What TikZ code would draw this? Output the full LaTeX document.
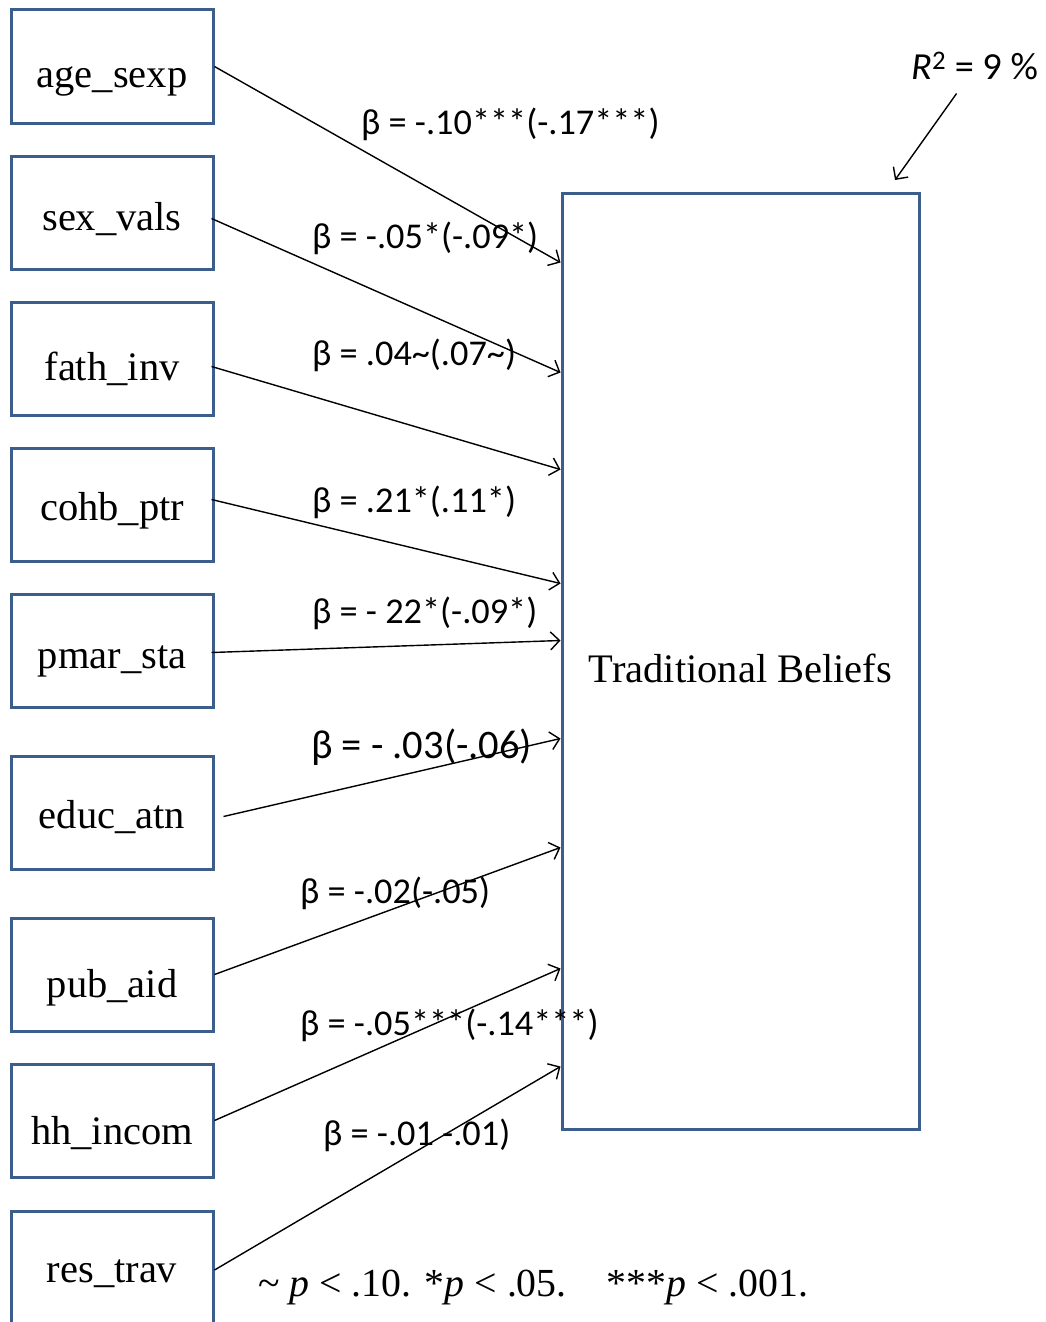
\documentclass[tikz,border=0pt]{standalone}
\usepackage{fontspec}
\setmainfont{Liberation Serif}
\newfontfamily\calib{Carlito}
\usetikzlibrary{arrows.meta}
\definecolor{boxblue}{HTML}{3B5E8C}
\begin{document}
\begin{tikzpicture}[x=1pt,y=-1pt,
  varbox/.style={draw=boxblue,line width=3pt,minimum width=202pt,minimum height=113pt,inner sep=0pt,text height=60pt,text depth=14pt,font=\fontsize{40.5}{42}\selectfont},
  coef/.style={inner sep=0pt,anchor=base west,font=\calib\fontsize{36.3}{38}\selectfont},
  conn/.style={draw=black,line width=1.4pt,-{Straight Barb[length=9pt,width=18pt,line width=1.4pt]}}]
\useasboundingbox (0,0) rectangle (1045,1322);
\node[varbox,text depth=18pt] (v1) at (112,66.5) {age\_sexp};
\node[varbox,text depth=25pt] (v2) at (112,212.5) {sex\_vals};
\node[varbox,text depth=17pt] (v3) at (112,358.5) {fath\_inv};
\node[varbox,text depth=29pt] (v4) at (112,504.5) {cohb\_ptr};
\node[varbox,text depth=25pt] (v5) at (112,650.5) {pmar\_sta};
\node[varbox,text depth=29pt] (v6) at (112,812.5) {educ\_atn};
\node[varbox,text depth=15pt] (v7) at (112,974.5) {pub\_aid};
\node[varbox,text depth=13pt] (v8) at (112,1120.5) {hh\_incom};
\node[varbox,text depth=32pt] (v9) at (112,1268) {res\_trav};
\node[draw=boxblue,line width=3pt,minimum width=357pt,minimum height=936pt,inner sep=0pt,text height=60pt,text depth=18pt,font=\fontsize{40.5}{42}\selectfont] (T) at (740.5,661) {Traditional Beliefs};
\draw[conn] (v1.east) -- ([yshift=-71pt]T.north west);
\draw[conn] ([xshift=-3pt,yshift=-6pt]v2.east) -- ([yshift=-181pt]T.north west);
\draw[conn] ([xshift=-3pt,yshift=-8pt]v3.east) -- ([yshift=-278pt]T.north west);
\draw[conn] ([xshift=-3pt,yshift=5pt]v4.east) -- ([yshift=-392pt]T.north west);
\draw[conn] ([xshift=-3pt,yshift=-2pt]v5.east) -- ([yshift=-449pt]T.north west);
\draw[conn] ([xshift=9pt,yshift=-4pt]v6.east) -- ([yshift=-547pt]T.north west);
\draw[conn] (v7.east) -- ([yshift=-656pt]T.north west);
\draw[conn] (v8.east) -- ([yshift=-777pt]T.north west);
\draw[conn] ([yshift=-2pt]v9.east) -- ([yshift=-875pt]T.north west);
\node[coef] (l1) at (361,134) {β = -.10***(-.17***)};
\node[coef] (l2) at (312,248) {β = -.05*(-.09*)};
\node[coef] (l3) at (312,365) {β = .04\textasciitilde(.07\textasciitilde)};
\node[coef] (l4) at (312,512) {β = .21*(.11*)};
\node[coef] (l5) at (312,623) {β = - 22*(-.09*)};
\node[coef,font=\calib\fontsize{40.5}{42}\selectfont] (l6) at (311,758) {β = - .03(-.06)};
\node[coef] (l7) at (300,903) {β = -.02(-.05)};
\node[coef] (l8) at (300,1035) {β = -.05***(-.14***)};
\node[coef] (l9) at (323,1145) {β = -.01 -.01)};
\node[coef,font=\calib\fontsize{38.3}{40}\selectfont] (R2) at (911,79) {\textit{R}\textsuperscript{2} = 9 \%};
\coordinate (r2end) at (895,180);
\draw[conn] ([xshift=-18pt,yshift=-14pt]R2.south) -- (r2end);
\node[inner sep=0pt,anchor=base west,font=\fontsize{39.8}{42}\selectfont] (note) at (258,1296) {\textasciitilde{} \textit{p} \textless{} .10. *\textit{p} \textless{} .05.\quad ***\textit{p} \textless{} .001.};
\end{tikzpicture}
\end{document}
